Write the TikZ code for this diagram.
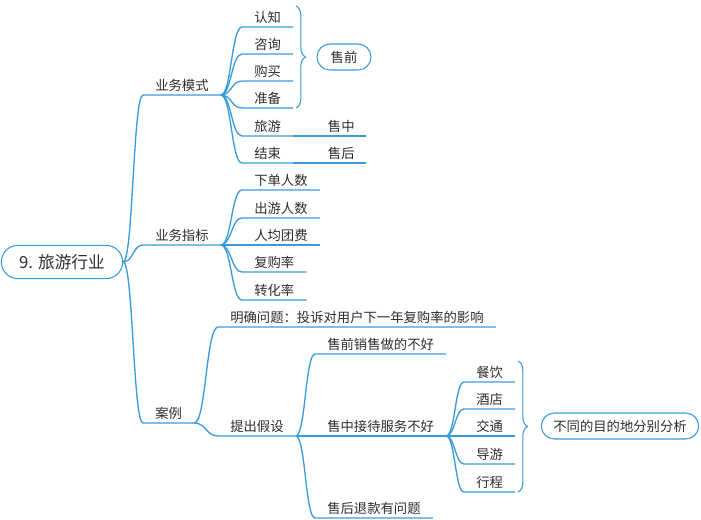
\documentclass[tikz,border=0pt]{standalone}
\usepackage{fontspec}
\setmainfont{Noto Sans CJK SC}
\usepackage{xcolor}
\usepackage{tikz}
\usetikzlibrary{positioning, calc, decorations.pathreplacing}

\definecolor{mapblue}{RGB}{58,155,220}
\definecolor{ink}{RGB}{45,45,45}

\begin{document}
\begin{tikzpicture}[
  x=0.75pt, y=-0.75pt,
  font=\fontsize{10}{12}\selectfont, text=ink,
  root/.style  ={rectangle, draw=mapblue, line width=0.8pt, rounded corners=12.5pt,
                 minimum width=91pt, minimum height=25pt,
                 font=\fontsize{12.5}{14}\selectfont},
  topic/.style ={inner xsep=9pt, inner ysep=2.5pt, anchor=south west},
  tag/.style   ={rectangle, draw=mapblue, line width=0.8pt, rounded corners=9.75pt,
                 minimum height=19.5pt, inner xsep=9pt},
  link/.style  ={draw=mapblue, line width=1pt,
                 to path={let \p1=(\tikztostart), \p2=(\tikztotarget) in
                   .. controls ({(\x1+\x2)/2},\y1) and ({(\x1+\x2)/2},\y2) .. (\tikztotarget)}},
  brace/.style ={draw=mapblue, line width=0.8pt, decorate,
                 decoration={brace, amplitude=7pt}}
]
\useasboundingbox (0,0) rectangle (701,519);

% ---------- Root ----------
\node[root] (root) at (62,262) {9. 旅游行业};

% ---------- Level 1 ----------
\node[topic] (ywms) at (143,95)  {业务模式};
\node[topic] (ywzb) at (143,245) {业务指标};
\node[topic] (al)   at (143,423) {案例};

% ---------- 业务模式 ----------
\node[topic] (rz) at (242,27)  {认知};
\node[topic] (zx) at (242,54)  {咨询};
\node[topic] (gm) at (242,81)  {购买};
\node[topic] (zb) at (242,108) {准备};
\node[topic] (ly) at (242,136) {旅游};
\node[topic] (js) at (242,163) {结束};
\node[topic, inner xsep=8pt] (sz) at (317,136) {售中};
\node[topic, inner xsep=8pt] (sh) at (317,163) {售后};
\node[tag, minimum width=40.5pt] (sq) at (344,57) {售前};

% ---------- 业务指标 ----------
\node[topic] (xdrs) at (242,190) {下单人数};
\node[topic] (cyrs) at (242,218) {出游人数};
\node[topic] (rjtf) at (242,245) {人均团费};
\node[topic] (fgl)  at (242,272) {复购率};
\node[topic] (zhl)  at (242,300) {转化率};

% ---------- 案例 ----------
\node[topic] (mqwt) at (218,327) {明确问题：投诉对用户下一年复购率的影响};
\node[topic] (tcjs) at (218,436) {提出假设};
\node[topic] (sqxs) at (315,354) {售前销售做的不好};
\node[topic] (szjd) at (315,436) {售中接待服务不好};
\node[topic] (shtk) at (315,518) {售后退款有问题};
\node[topic] (cy) at (464,382) {餐饮};
\node[topic] (jd) at (464,409) {酒店};
\node[topic] (jt) at (464,436) {交通};
\node[topic] (dy) at (464,464) {导游};
\node[topic] (xc) at (464,492) {行程};
\node[tag] (fx) at (620,426) {不同的目的地分别分析};

% ---------- Links ----------
\foreach \kid in {ywms, ywzb, al}
  \draw[link] (root.east) to (\kid.south west) -- (\kid.south east);
\foreach \kid in {rz, zx, gm, zb, ly, js}
  \draw[link] (ywms.south east) to (\kid.south west) -- (\kid.south east);
\draw[link] (ly.south east) -- (sz.south west) -- (sz.south east);
\draw[link] (js.south east) -- (sh.south west) -- (sh.south east);
\foreach \kid in {xdrs, cyrs, rjtf, fgl, zhl}
  \draw[link] (ywzb.south east) to (\kid.south west) -- (\kid.south east);
\foreach \kid in {mqwt, tcjs}
  \draw[link] (al.south east) to (\kid.south west) -- (\kid.south east);
\foreach \kid in {sqxs, szjd, shtk}
  \draw[link] (tcjs.south east) to (\kid.south west) -- (\kid.south east);
\foreach \kid in {cy, jd, jt, dy, xc}
  \draw[link] (szjd.south east) to (\kid.south west) -- (\kid.south east);

% ---------- Braces ----------
\draw[brace] ($(rz.south east)+(3,-21)$) -- ($(zb.south east)+(3,0)$);
\draw[brace] ($(cy.south east)+(3,-21)$) -- ($(xc.south east)+(3,0)$);

\end{tikzpicture}
\end{document}
